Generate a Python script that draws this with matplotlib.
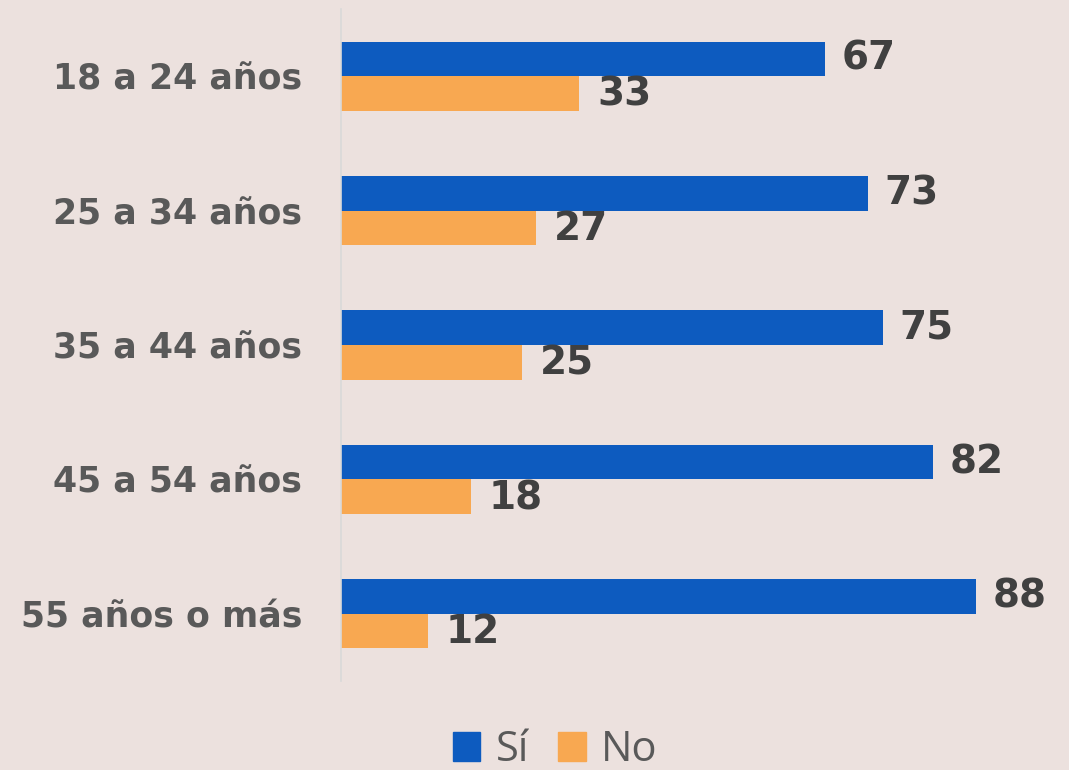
import numpy as np
import matplotlib.pyplot as plt
from matplotlib.patches import Patch

# datos
categorias = ["18 a 24 años", "25 a 34 años", "35 a 44 años", "45 a 54 años", "55 años o más"]
si = [67, 73, 75, 82, 88]
no = [33, 27, 25, 18, 12]

fondo = "#ECE1DE"
azul = "#0D5BBF"
naranja = "#F8A851"

fig = plt.figure(figsize=(10.69, 7.7), dpi=100, facecolor=fondo)
ax = fig.add_axes([341 / 1069, 1 - 681 / 770, (1063 - 341) / 1069, (681 - 9) / 770])
ax.set_facecolor(fondo)

y = np.arange(len(categorias))
h = 0.257
b1 = ax.barh(y - h / 2, si, height=h, color=azul)
b2 = ax.barh(y + h / 2, no, height=h, color=naranja)

for rect, v in zip(b1, si):
    ax.text(v + 2.3, rect.get_y() + rect.get_height() / 2, str(v), va="center", ha="left",
            fontsize=28, fontweight="bold", color="#404040", family="DejaVu Sans")
for rect, v in zip(b2, no):
    ax.text(v + 2.5, rect.get_y() + rect.get_height() / 2 + 0.01, str(v), va="center", ha="left",
            fontsize=28, fontweight="bold", color="#404040", family="DejaVu Sans")

ax.set_xlim(0, 100)
ax.set_ylim(len(categorias) - 0.5, -0.5)
ax.set_yticks(y)
ax.set_yticklabels(categorias, fontsize=25, fontweight="bold", color="#595959", family="DejaVu Sans")
ax.tick_params(axis="y", length=0, pad=28)
ax.set_xticks([])
for s in ["top", "right", "bottom"]:
    ax.spines[s].set_visible(False)
ax.spines["left"].set_color("#D9D9D9")
ax.spines["left"].set_linewidth(1.2)

handles = [Patch(color=azul, label="Sí"), Patch(color=naranja, label="No")]
fig.legend(handles=handles, loc="center", bbox_to_anchor=(555 / 1069, 1 - 750 / 770), ncol=2,
           frameon=False, prop={"family": "Open Sans", "size": 30}, labelcolor="#595959",
           handlelength=0.67, handleheight=0.67, handletextpad=0.36, columnspacing=0.7)

fig.savefig("out.png", dpi=100, facecolor=fondo)
